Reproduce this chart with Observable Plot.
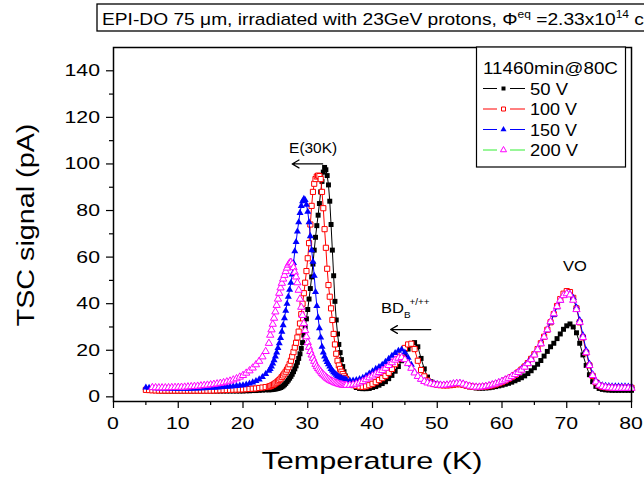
<!DOCTYPE html>
<html><head><meta charset="utf-8">
<script src="https://cdn.jsdelivr.net/npm/d3@7"></script>
<script src="https://cdn.jsdelivr.net/npm/@observablehq/plot@0.6"></script>
<style>body{margin:0;background:#fff;overflow:hidden} svg{display:block}</style>
</head><body><div id="chart"></div>
<script>
// Temperature sample points (K)
const temperature = [
  5,5.5,6,6.5,7,7.5,8,8.5,9,9.5,10,10.5,11,11.5,12,12.5,13,13.5,14,14.5,15,15.5,16,16.5,17,17.5,18,18.5,19,19.5,20,
  20.5,21,21.5,22,22.5,23,23.5,24,
  24.2,24.4,24.6,24.8,25,25.2,25.4,25.6,25.8,26,
  26.2,26.4,26.6,26.8,27,27.2,27.4,27.6,27.8,28,
  28.2,28.4,28.6,28.8,29,29.2,29.4,29.6,29.8,30,
  30.2,30.4,30.6,30.8,31,31.2,31.4,31.6,31.8,32,
  32.2,32.4,32.6,32.8,33,33.2,33.4,33.6,33.8,34,
  34.2,34.4,34.6,34.8,35,35.2,35.4,35.6,35.8,36,
  36.5,37,37.5,38,38.5,39,39.5,40,40.5,41,
  41.5,42,42.5,43,43.5,44,44.5,45,45.5,46,
  46.5,47,47.5,48,48.5,49,49.5,50,50.5,51,
  51.5,52,52.5,53,53.5,54,54.5,55,55.5,56,
  56.5,57,57.5,58,58.5,59,59.5,60,60.5,61,
  61.5,62,62.5,63,63.5,64,64.5,65,65.5,66,
  66.5,67,67.5,68,68.5,69,69.5,70,70.5,71,
  71.5,72,72.5,73,73.5,74,74.5,75,75.5,76,
  76.5,77,77.5,78,78.5,79,79.5,80
];
// TSC signal (pA), 50 V
const signal50V = [
  3.0,2.9,2.8,2.7,2.6,2.55,2.5,2.5,2.5,2.5,2.5,2.5,2.5,2.5,2.5,2.5,2.5,2.5,2.5,2.5,2.5,2.5,2.5,2.5,2.5,2.5,2.5,2.5,2.5,2.5,2.5,
  2.6,2.6,2.7,2.7,2.8,2.9,3.0,3.0,
  3.1,3.1,3.2,3.3,3.4,3.5,3.6,3.8,4.0,4.3,
  4.7,5.2,5.8,6.5,7.2,8.0,8.8,9.7,10.8,12.0,
  13.3,14.8,16.5,18.5,20.8,23.3,26.5,30.0,33.5,37.5,
  42,46.5,51.5,57,63,68.5,73.5,78,83,88,
  92.5,96.5,98.5,97.5,95,91,84,74,63,52,
  41,33,27,22.5,19,16,13,10.8,9.0,7.8,
  6.0,4.8,4.0,3.6,3.5,3.5,3.6,4.0,4.4,5.0,
  5.7,6.5,7.8,9.2,11.0,13.0,15.5,18.0,20.5,22.3,
  23.3,21.5,16.5,12.0,8.5,6.5,5.6,5.2,5.0,4.9,
  4.9,5.0,5.2,5.3,5.3,5.1,4.7,4.3,4.0,3.8,
  3.7,3.7,3.8,3.9,4.1,4.4,4.7,5.0,5.4,5.8,
  6.3,6.9,7.5,8.2,9.0,10.0,11.2,12.5,14.0,15.6,
  17.5,19.5,21.5,23.0,25.0,27.0,29.0,30.5,31.3,30.0,
  27.5,23.0,18.0,13.5,9.5,6.5,4.5,3.6,3.2,3.0,
  2.9,2.8,2.8,2.8,2.8,2.8,2.8,2.8
];
// TSC signal (pA), 100 V
const signal100V = [
  3.0,2.9,2.8,2.75,2.7,2.7,2.7,2.7,2.7,2.7,2.7,2.7,2.7,2.7,2.7,2.7,2.7,2.7,2.7,2.7,2.7,2.75,2.8,2.85,2.9,2.95,3.0,3.05,3.1,3.15,3.2,
  3.3,3.4,3.5,3.6,3.8,4.0,4.2,4.4,
  4.6,4.8,5.1,5.4,5.8,6.2,6.7,7.2,7.8,8.5,
  9.2,10.0,10.8,11.7,12.7,14.0,15.5,17.3,19.2,21.2,
  23.2,25.5,28.0,31.5,35.5,40.0,44.5,49.0,54.0,59.5,
  66,74,82,88,91.5,93.5,94.6,95.0,94.8,93.5,
  88,81,72,64,55,48,43,38,33,27,
  22.5,18.5,15.5,13.5,12.0,10.8,9.8,8.8,8.0,7.3,
  6.0,5.2,4.7,4.4,4.3,4.5,5.0,5.6,6.3,7.2,
  8.0,9.0,10.3,12.0,14.0,16.3,18.8,21.0,22.5,22.8,
  20.5,15.5,11.5,8.8,7.0,6.0,5.5,5.2,5.0,4.9,
  4.9,5.0,5.2,5.4,5.4,5.2,4.8,4.5,4.3,4.2,
  4.2,4.3,4.4,4.6,4.9,5.3,5.8,6.3,7.0,7.7,
  8.5,9.4,10.5,11.7,13.0,14.5,16.3,18.3,20.5,23.0,
  25.8,28.8,32.0,35.5,39.0,42.0,44.3,45.4,45.0,42.5,
  38.0,32.0,25.5,19.0,13.5,9.0,6.2,4.9,4.3,4.1,
  4.0,3.9,3.9,3.9,3.9,3.9,3.9,3.9
];
// TSC signal (pA), 150 V
const signal150V = [
  4.0,3.9,3.8,3.7,3.6,3.55,3.5,3.5,3.5,3.5,3.5,3.5,3.5,3.5,3.5,3.55,3.6,3.65,3.7,3.8,3.9,3.95,4.0,4.1,4.2,4.3,4.4,4.55,4.7,4.85,5.0,
  5.3,5.7,6.2,6.8,7.5,8.5,9.8,11.2,
  12.0,13.0,14.3,15.7,17.3,19.0,21.0,23.0,25.3,28.0,
  30.8,33.8,37.0,40.0,43.0,46.0,49.0,52.5,57.5,62.5,
  66.5,71.0,75.0,79.0,82.0,84.0,85.0,84.5,82.5,79.5,
  75.0,69.0,63.0,58.0,52.0,45.0,39.0,34.0,29.5,25.5,
  21.5,19.0,17.3,16.0,15.0,14.0,13.0,12.0,11.3,10.6,
  10.0,9.5,9.0,8.6,8.3,8.0,7.8,7.6,7.4,7.2,
  7.0,7.0,7.2,7.6,8.2,9.0,10.0,11.0,12.0,12.8,
  13.8,15.0,16.3,17.6,18.8,19.8,20.3,19.0,16.8,13.8,
  10.8,8.8,7.5,6.8,6.4,6.1,5.8,5.5,5.3,5.2,
  5.2,5.4,5.7,5.9,5.9,5.6,5.1,4.7,4.4,4.3,
  4.3,4.4,4.6,4.9,5.3,5.7,6.2,6.8,7.4,8.1,
  8.9,9.8,10.8,12.0,13.3,14.8,16.5,18.5,20.6,23.0,
  25.8,28.8,32.0,35.3,38.5,41.3,43.5,44.5,44.3,42.5,
  38.5,33.0,26.5,20.0,14.3,9.8,7.0,5.6,5.0,4.7,
  4.6,4.5,4.5,4.5,4.5,4.5,4.4,4.4
];
// TSC signal (pA), 200 V
const signal200V = [
  null,null,4.0,3.95,3.9,3.9,3.9,3.95,4.0,4.05,4.1,4.15,4.2,4.3,4.4,4.5,4.6,4.75,4.9,5.05,5.2,5.4,5.6,5.85,6.1,6.45,6.8,7.3,7.8,8.5,9.2,
  10.2,11.2,12.4,13.8,15.3,17.2,19.5,23.0,
  26.5,28.8,31.2,33.8,36.5,39.3,42.0,44.5,46.8,48.8,
  50.6,52.2,53.8,55.3,56.6,57.5,57.8,57.0,55.5,53.5,
  51.5,49.0,45.8,42.0,38.5,35.0,31.5,28.5,25.8,23.3,
  21.3,19.5,18.0,16.6,15.3,14.0,13.0,12.2,11.5,10.8,
  10.1,9.5,9.0,8.5,8.0,7.6,7.2,6.9,6.6,6.4,
  6.1,5.9,5.7,5.5,5.3,5.2,5.1,5.0,5.0,5.0,
  5.0,5.2,5.5,6.0,6.6,7.4,8.2,9.0,9.8,10.5,
  11.3,12.3,13.5,14.7,15.8,16.6,16.9,16.0,14.3,12.3,
  10.3,8.8,7.6,6.6,6.0,5.6,5.3,5.1,5.0,5.0,
  5.1,5.3,5.6,5.8,5.8,5.5,5.0,4.6,4.3,4.2,
  4.2,4.3,4.5,4.8,5.2,5.6,6.1,6.7,7.3,8.0,
  8.8,9.6,10.5,11.5,12.8,14.3,16.0,18.0,20.3,22.8,
  25.7,28.8,32.3,35.7,38.8,41.5,43.5,44.3,43.8,41.5,
  37.5,32.0,25.5,19.0,13.5,9.2,6.4,5.0,4.4,4.1,
  3.9,3.8,3.7,3.7,3.7,3.7,3.7,3.7
];
const seriesLabels = ["50 V", "100 V", "150 V", "200 V"];
const legendTitle = "11460min@80C";
const xTicks = [0, 10, 20, 30, 40, 50, 60, 70, 80];
const xMinorTicks = [5, 15, 25, 35, 45, 55, 65, 75];
const yTicks = [0, 20, 40, 60, 80, 100, 120, 140];
const yMinorTicks = [10, 30, 50, 70, 90, 110, 130];
const xLabel = "Temperature (K)";
const yLabel = "TSC signal (pA)";
// annotation arrows (data coords: K, pA)
const arrowFrom = [32.3, 49.0];
const arrowTo = [27.6, 42.8];
const arrowLevel = [100.0, 28.9];
// annotation label anchors (data coords)
const labelE = {T: 30.9, v: 104.4, text: "E(30K)"};
const labelBD = {T: 41.4, v: 35.7};
const labelVO = {T: 71.35, v: 53.9, text: "VO"};

const FONT = "'Liberation Sans', Arial, Helvetica, sans-serif";
const rows = vals => temperature.map((t, i) => ({T: t, v: vals[i]})).filter(d => d.v != null);
const d50 = rows(signal50V), d100 = rows(signal100V), d150 = rows(signal150V), d200 = rows(signal200V);
const arrows = arrowFrom.map((a, i) => ({x1: a, x2: arrowTo[i], y: arrowLevel[i]}));

const plot = Plot.plot({
  width: 644, height: 479,
  marginLeft: 113, marginRight: 13, marginTop: 47, marginBottom: 78,
  x: {domain: [0, 80]},
  y: {domain: [-2, 150]},
  style: {fontFamily: FONT, fontSize: "17px", color: "black", background: "white"},
  marks: [
    Plot.line(d50, {x: "T", y: "v", stroke: "black", strokeWidth: 1}),
    Plot.dot(d50, {x: "T", y: "v", symbol: "square", fill: "black", r: 2.8}),
    Plot.line(d100, {x: "T", y: "v", stroke: "red", strokeWidth: 1}),
    Plot.dot(d100, {x: "T", y: "v", symbol: "square", fill: "white", stroke: "red", strokeWidth: 1, r: 2.9}),
    Plot.line(d150, {x: "T", y: "v", stroke: "blue", strokeWidth: 1}),
    Plot.dot(d150, {x: "T", y: "v", symbol: "triangle", fill: "blue", r: 2.6}),
    Plot.dot(d200, {x: "T", y: "v", symbol: "triangle", fill: "white", stroke: "#ff00ff", strokeWidth: 1, r: 2.7}),
    Plot.arrow(arrows, {x1: "x1", y1: "y", x2: "x2", y2: "y", stroke: "black", strokeWidth: 1.3, headLength: 9}),
    Plot.frame({stroke: "black", strokeWidth: 1.5}),
    Plot.axisX({ticks: xTicks, tickSize: 7, tickFormat: () => "", label: null, strokeWidth: 1.2}),
    Plot.axisX({ticks: xMinorTicks, tickSize: 4, tickFormat: () => "", label: null, strokeWidth: 1.2}),
    Plot.axisY({ticks: yTicks, tickSize: 7, tickFormat: () => "", label: null, strokeWidth: 1.2}),
    Plot.axisY({ticks: yMinorTicks, tickSize: 4, tickFormat: () => "", label: null, strokeWidth: 1.2})
  ]
});
document.getElementById("chart").appendChild(plot);

const svg = d3.select(plot);
const sx = plot.scale("x"), sy = plot.scale("y");

function addText(x, y, str, size, opts = {}) {
  const t = svg.append("text")
    .attr("font-family", FONT).attr("font-size", size).attr("fill", "black")
    .attr("text-anchor", opts.anchor || "start")
    .text(str);
  const base = `translate(${x},${y})` + (opts.rotate ? ` rotate(${opts.rotate})` : "");
  t.attr("transform", base);
  if (opts.width) {
    const w = t.node().getComputedTextLength();
    t.attr("transform", `${base} scale(${opts.width / w},1)`);
  } else if (opts.k) {
    t.attr("transform", `${base} scale(${opts.k},1)`);
  }
  return t;
}

// tick labels placed with the plot's own scales
xTicks.forEach(t => addText(sx.apply(t), 429, String(t), 17, {anchor: "middle", k: 1.25}));
yTicks.forEach(t => addText(100, sy.apply(t) + 6, String(t), 17, {anchor: "end", k: 1.25}));

// axis titles
addText(372, 469, xLabel, 24, {anchor: "middle", width: 221});
addText(34, 225, yLabel, 24, {anchor: "middle", rotate: -90, width: 203});

// top title box
svg.append("rect").attr("x", 97).attr("y", 4).attr("width", 600).attr("height", 27)
  .attr("fill", "white").attr("stroke", "black").attr("stroke-width", 1.3);
const title = svg.append("text").attr("font-family", FONT).attr("font-size", 16)
  .attr("text-anchor", "start").attr("fill", "black")
  .attr("transform", "translate(102,25) scale(1.2,1)");
title.append("tspan").text("EPI-DO 75 \u03bcm, irradiated with 23GeV protons, \u03a6");
title.append("tspan").attr("font-size", 10).attr("dy", -7).text("eq");
title.append("tspan").attr("dy", 7).text(" =2.33x10");
title.append("tspan").attr("font-size", 10).attr("dy", -7).text("14");
title.append("tspan").attr("dy", 7).text(" cm");
title.append("tspan").attr("font-size", 10).attr("dy", -7).text("-2");

// annotations
addText(sx.apply(labelE.T), sy.apply(labelE.v), labelE.text, 15, {anchor: "middle", width: 48});
const bx = sx.apply(labelBD.T), by = sy.apply(labelBD.v);
const bd = svg.append("text").attr("font-family", FONT).attr("font-size", 15)
  .attr("text-anchor", "start").attr("fill", "black")
  .attr("transform", `translate(${bx},${by}) scale(1.1,1)`);
bd.append("tspan").text("BD");
bd.append("tspan").attr("font-size", 9).attr("dy", 5).text("B");
bd.append("tspan").attr("font-size", 9).attr("dy", -13).attr("dx", -1).text("+/++");
addText(sx.apply(labelVO.T), sy.apply(labelVO.v), labelVO.text, 15, {anchor: "middle", k: 1.1});

// legend
const lg = {x: 476.5, y: 47, w: 149, h: 120};
svg.append("rect").attr("x", lg.x).attr("y", lg.y).attr("width", lg.w).attr("height", lg.h)
  .attr("fill", "white").attr("stroke", "black").attr("stroke-width", 1.2);
addText(483, 73.5, legendTitle, 17, {width: 135});
const legendStyles = [
  {line: "black", sym: d3.symbolSquare, fill: "black", stroke: "none", size: 16},
  {line: "red", sym: d3.symbolSquare, fill: "white", stroke: "red", size: 16},
  {line: "blue", sym: d3.symbolTriangle, fill: "blue", stroke: "none", size: 16},
  {line: "#33ee33", sym: d3.symbolTriangle, fill: "white", stroke: "#ff00ff", size: 16}
];
const legendWidths = [38, 47, 47, 48];
const rowY = [88.5, 109, 129.5, 150];
seriesLabels.forEach((lab, i) => {
  const s = legendStyles[i], y = rowY[i];
  svg.append("line").attr("x1", 483).attr("x2", 497).attr("y1", y).attr("y2", y).attr("stroke", s.line).attr("stroke-width", 1);
  svg.append("line").attr("x1", 510).attr("x2", 525).attr("y1", y).attr("y2", y).attr("stroke", s.line).attr("stroke-width", 1);
  svg.append("path").attr("d", d3.symbol(s.sym, s.size)()).attr("transform", `translate(503.5,${y})`)
    .attr("fill", s.fill).attr("stroke", s.stroke).attr("stroke-width", 1);
  addText(530, y + 6, lab, 17, {width: legendWidths[i]});
});
</script>
</body></html>
